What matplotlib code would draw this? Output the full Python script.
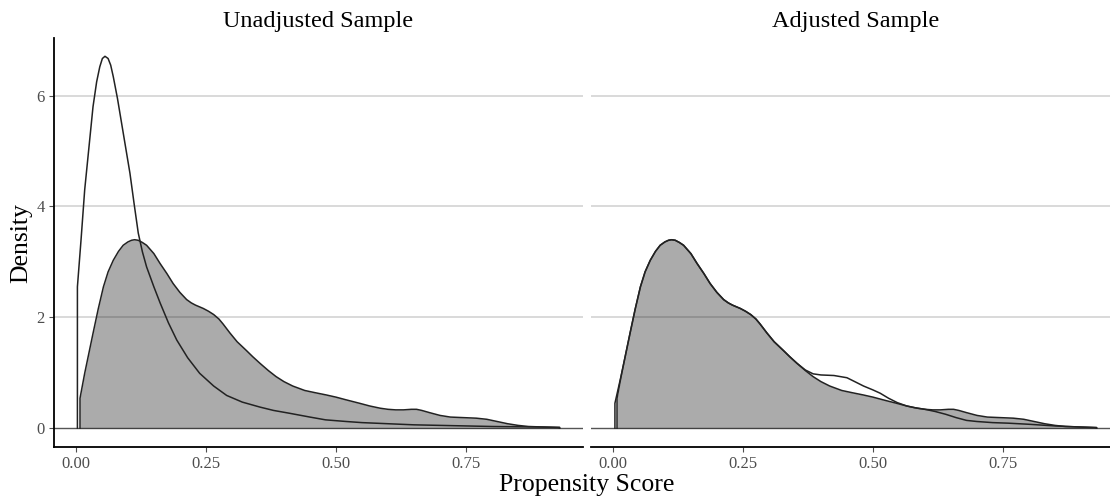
import matplotlib
matplotlib.use("Agg")
import matplotlib.pyplot as plt

# ---- data ----
panel_titles = ["Unadjusted Sample", "Adjusted Sample"]
x_label = "Propensity Score"
y_label = "Density"
x_ticks = [0.00, 0.25, 0.50, 0.75]
x_tick_labels = ["0.00", "0.25", "0.50", "0.75"]
y_ticks = [0, 2, 4, 6]

# treated group (grey filled) - identical in both panels
treated_x = [0.008, 0.008, 0.017, 0.025, 0.033, 0.043, 0.053, 0.062, 0.072, 0.082,
             0.091, 0.100, 0.107, 0.113, 0.120, 0.128, 0.136, 0.150, 0.162, 0.175,
             0.187, 0.200, 0.213, 0.222, 0.230, 0.245, 0.255, 0.265, 0.275, 0.283,
             0.296, 0.310, 0.328, 0.340, 0.354, 0.370, 0.385, 0.400, 0.417, 0.440,
             0.460, 0.481, 0.500, 0.520, 0.545, 0.565, 0.585, 0.600, 0.615, 0.630,
             0.645, 0.655, 0.665, 0.680, 0.700, 0.720, 0.745, 0.770, 0.790, 0.810,
             0.830, 0.850, 0.870, 0.900, 0.930, 0.930]
treated_y = [0.00, 0.54, 0.99, 1.35, 1.71, 2.15, 2.55, 2.82, 3.03, 3.19,
             3.30, 3.36, 3.39, 3.40, 3.39, 3.35, 3.30, 3.15, 2.97, 2.79,
             2.61, 2.45, 2.32, 2.26, 2.22, 2.16, 2.11, 2.05, 1.97, 1.88,
             1.72, 1.56, 1.40, 1.29, 1.17, 1.04, 0.93, 0.84, 0.76, 0.68,
             0.64, 0.60, 0.56, 0.51, 0.45, 0.40, 0.36, 0.34, 0.33, 0.33,
             0.34, 0.34, 0.32, 0.28, 0.23, 0.20, 0.19, 0.18, 0.16, 0.12,
             0.08, 0.05, 0.03, 0.02, 0.01, 0.00]

# control group, unadjusted (outline only)
control_x = [0.003, 0.003, 0.010, 0.017, 0.025, 0.033, 0.040, 0.046, 0.051, 0.056,
             0.062, 0.067, 0.072, 0.080, 0.088, 0.096, 0.104, 0.112, 0.120, 0.128,
             0.136, 0.150, 0.162, 0.178, 0.194, 0.215, 0.238, 0.265, 0.290, 0.320,
             0.354, 0.380, 0.410, 0.450, 0.480, 0.520, 0.550, 0.600, 0.650, 0.700,
             0.750, 0.800, 0.850, 0.900, 0.930, 0.930]
control_y = [0.00, 2.55, 3.40, 4.30, 5.05, 5.80, 6.25, 6.52, 6.67, 6.71,
             6.67, 6.55, 6.34, 5.95, 5.50, 5.05, 4.60, 4.05, 3.52, 3.18,
             2.91, 2.55, 2.26, 1.90, 1.59, 1.27, 0.99, 0.76, 0.59, 0.47,
             0.38, 0.32, 0.27, 0.20, 0.15, 0.12, 0.10, 0.08, 0.06, 0.05,
             0.04, 0.03, 0.025, 0.02, 0.015, 0.00]

# control group, weighted (outline only)
weighted_x = [0.004, 0.004, 0.017, 0.025, 0.033, 0.043, 0.053, 0.062, 0.072, 0.082,
              0.091, 0.100, 0.107, 0.113, 0.120, 0.128, 0.136, 0.150, 0.162, 0.175,
              0.187, 0.200, 0.213, 0.222, 0.230, 0.245, 0.255, 0.265, 0.275, 0.283,
              0.296, 0.310, 0.328, 0.340, 0.354, 0.370, 0.385, 0.400, 0.425, 0.450,
              0.465, 0.482, 0.500, 0.514, 0.530, 0.547, 0.565, 0.580, 0.600, 0.620,
              0.640, 0.660, 0.680, 0.700, 0.730, 0.760, 0.800, 0.850, 0.900, 0.930,
              0.930]
weighted_y = [0.00, 0.45, 0.99, 1.35, 1.71, 2.15, 2.55, 2.82, 3.03, 3.19,
              3.30, 3.36, 3.39, 3.40, 3.39, 3.35, 3.30, 3.15, 2.97, 2.79,
              2.61, 2.45, 2.32, 2.26, 2.22, 2.16, 2.11, 2.05, 1.97, 1.88,
              1.72, 1.56, 1.40, 1.29, 1.17, 1.05, 0.98, 0.96, 0.95, 0.91,
              0.84, 0.76, 0.69, 0.63, 0.54, 0.46, 0.40, 0.37, 0.34, 0.30,
              0.25, 0.19, 0.14, 0.12, 0.10, 0.09, 0.07, 0.04, 0.02, 0.01,
              0.00]

panels = [(treated_x, treated_y, control_x, control_y),
          (treated_x, treated_y, weighted_x, weighted_y)]

# ---- styling ----
plt.rcParams['font.family'] = ['Liberation Serif', 'DejaVu Serif']
W, H = 1110, 499
fig = plt.figure(figsize=(W / 100, H / 100), dpi=100)

xlim = (-0.042, 0.975)
ylim = (-0.34, 7.04)
ax_left_px = [54, 591]
ax_w_px = 529
ax_top_px, ax_bot_px = 38, 447

line_col = '#222222'
grid_col = '#d0d0d0'
tick_col = '#4d4d4d'

for i, (tx, ty, cx, cy) in enumerate(panels):
    ax = fig.add_axes([ax_left_px[i] / W, 1 - ax_bot_px / H,
                       ax_w_px / W, (ax_bot_px - ax_top_px) / H])
    ax.set_xlim(*xlim)
    ax.set_ylim(*ylim)
    for yv in y_ticks[1:]:
        ax.axhline(yv, color=grid_col, lw=1.1, zorder=0)
    ax.axhline(0, color='#555555', lw=1.0, zorder=1)
    ax.fill_between(tx, ty, 0, color='black', alpha=0.33, lw=0, zorder=2)
    ax.plot(tx, ty, color=line_col, lw=1.1, zorder=3, solid_joinstyle='round')
    ax.plot(cx, cy, color=line_col, lw=1.1, zorder=3, solid_joinstyle='round')

    ax.set_xticks(x_ticks)
    ax.set_xticklabels(x_tick_labels)
    ax.tick_params(axis='x', length=3.5, width=0.8, color=tick_col,
                   labelcolor=tick_col, labelsize=12, pad=3)
    for s in ['top', 'right']:
        ax.spines[s].set_visible(False)
    ax.spines['bottom'].set_linewidth(1.3)
    ax.spines['bottom'].set_color('black')
    if i == 0:
        ax.set_yticks(y_ticks)
        ax.tick_params(axis='y', length=3.5, width=0.8, color=tick_col,
                       labelcolor=tick_col, labelsize=12, pad=3)
        ax.spines['left'].set_linewidth(1.3)
        ax.spines['left'].set_color('black')
    else:
        ax.set_yticks([])
        ax.spines['left'].set_visible(False)
    ax.patch.set_alpha(0)
    ax.text(0.5, 1 + (ax_top_px - 22) / (ax_bot_px - ax_top_px), panel_titles[i],
            transform=ax.transAxes, ha='center', va='center', fontsize=17.5,
            color='black')

fig.text(587 / W, 1 - 485 / H, x_label, ha='center', va='center', fontsize=18.5)
fig.text(21 / W, 1 - 243 / H, y_label, ha='center', va='center', rotation=90,
         fontsize=18.5)

fig.savefig('out.png', dpi=100)
